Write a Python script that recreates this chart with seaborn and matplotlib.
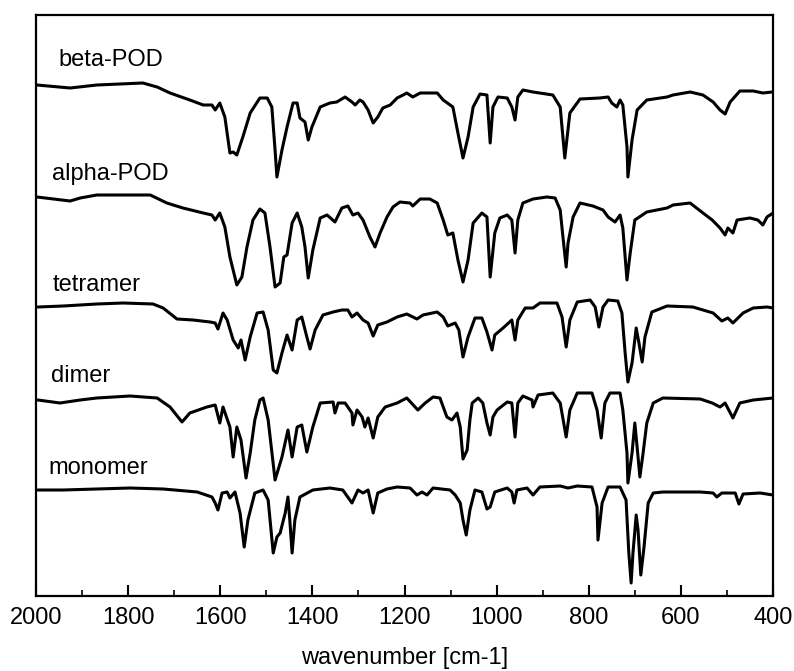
import matplotlib
matplotlib.use("Agg")
import matplotlib.pyplot as plt
from matplotlib.ticker import MultipleLocator
import pandas as pd
import seaborn as sns

# FTIR spectra, offset vertically (signal in arbitrary units)
beta_wn = [1998, 1926, 1868, 1768, 1737, 1709, 1666, 1637, 1618, 1611, 1601, 1590, 1579, 1572, 1564,
           1551, 1535, 1514, 1498, 1488, 1481, 1477, 1466, 1455, 1442, 1433, 1427, 1416, 1409, 1401,
           1383, 1362, 1347, 1329, 1314, 1307, 1297, 1290, 1279, 1268, 1258, 1247, 1231, 1216, 1203,
           1195, 1182, 1166, 1129, 1116, 1095, 1084, 1073, 1062, 1051, 1036, 1021, 1014, 1008, 997,
           977, 967, 960, 954, 943, 921, 878, 862, 852, 841, 819, 776, 758, 750, 739, 732, 726, 717,
           715, 706, 695, 674, 630, 617, 580, 552, 530, 515, 504, 493, 472, 443, 422, 402]
beta_sig = [511, 508, 511, 513, 509, 503, 496, 491, 491, 486, 493, 479, 443, 444, 441,
            459, 483, 498, 498, 489, 446, 419, 446, 469, 493, 493, 478, 474, 456, 469,
            489, 493, 494, 499, 494, 491, 496, 494, 486, 473, 479, 488, 491, 498, 501,
            503, 499, 503, 503, 496, 489, 463, 438, 459, 489, 502, 501, 453, 489, 499,
            498, 489, 476, 499, 506, 504, 501, 489, 438, 483, 497, 498, 499, 493, 489, 496, 491, 449,
            419, 456, 486, 496, 499, 501, 504, 501, 494, 486, 482, 494, 505, 505, 503, 504]

alpha_wn = [1998, 1926, 1904, 1868, 1752, 1716, 1681, 1637, 1618, 1611, 1601, 1590, 1579, 1564, 1553,
            1542, 1529, 1514, 1503, 1492, 1481, 1470, 1462, 1455, 1444, 1433, 1423, 1416, 1409, 1399,
            1383, 1368, 1351, 1336, 1323, 1312, 1301, 1290, 1275, 1264, 1253, 1238, 1225, 1210, 1188,
            1182, 1166, 1145, 1129, 1116, 1106, 1095, 1084, 1073, 1062, 1051, 1032, 1021, 1014, 1004,
            993, 977, 967, 960, 954, 943, 921, 891, 873, 862, 856, 849, 845, 834, 819, 791, 769, 758,
            743, 732, 726, 717, 710, 700, 674, 630, 617, 580, 552, 532, 515, 504, 498, 487, 478, 450,
            433, 422, 413, 400]
alpha_sig = [399, 395, 398, 401, 401, 393, 388, 383, 381, 376, 383, 369, 339, 311, 319,
             349, 376, 387, 383, 349, 309, 313, 339, 341, 373, 383, 369, 349, 318, 346,
             378, 381, 374, 388, 390, 381, 383, 376, 359, 349, 363, 379, 389, 394, 393,
             390, 397, 397, 393, 376, 361, 363, 336, 314, 336, 373, 383, 379, 319, 363,
             378, 381, 376, 343, 376, 393, 397, 399, 398, 386, 359, 329, 353, 379, 393, 390, 386, 379,
             374, 381, 368, 316, 343, 376, 384, 388, 391, 393, 383, 376, 368, 361, 368, 363, 376, 378,
             376, 371, 379, 383]

tetramer_wn = [1996, 1941, 1868, 1811, 1746, 1724, 1694, 1659, 1622, 1611, 1605, 1594, 1585, 1572, 1561,
               1555, 1546, 1535, 1520, 1507, 1496, 1485, 1477, 1466, 1455, 1444, 1433, 1423, 1412, 1405,
               1394, 1377, 1355, 1336, 1323, 1314, 1303, 1290, 1279, 1268, 1258, 1238, 1216, 1195, 1173,
               1160, 1129, 1116, 1106, 1090, 1082, 1073, 1062, 1047, 1032, 1021, 1010, 1004, 986, 967,
               960, 954, 938, 921, 906, 869, 858, 849, 841, 825, 797, 786, 778, 769, 758, 737, 728, 721,
               715, 706, 697, 691, 684, 678, 663, 630, 574, 530, 511, 498, 487, 465, 443, 413, 400]
tetramer_sig = [289, 290, 292, 293, 292, 288, 277, 276, 274, 273, 267, 283, 276, 256, 248,
                256, 236, 259, 283, 284, 266, 226, 223, 243, 261, 246, 276, 279, 259, 247,
                266, 281, 284, 286, 286, 279, 283, 276, 273, 260, 271, 274, 279, 282, 277,
                281, 284, 279, 270, 273, 266, 239, 259, 278, 278, 264, 246, 261, 268, 276,
                256, 276, 288, 288, 293, 293, 279, 249, 276, 294, 296, 289, 269, 289, 296, 295, 283, 243,
                214, 233, 268, 253, 234, 259, 284, 290, 289, 283, 275, 278, 273, 283, 288, 289, 288]

dimer_wn = [1996, 1948, 1904, 1868, 1796, 1737, 1709, 1683, 1666, 1629, 1611, 1601, 1594, 1579, 1572,
            1564, 1555, 1544, 1535, 1525, 1514, 1507, 1496, 1481, 1466, 1453, 1444, 1433, 1423, 1412,
            1399, 1383, 1355, 1351, 1344, 1329, 1314, 1312, 1303, 1292, 1286, 1279, 1268, 1258, 1242,
            1216, 1195, 1171, 1155, 1138, 1123, 1108, 1097, 1086, 1079, 1073, 1064, 1058, 1053, 1040,
            1030, 1021, 1014, 1008, 999, 977, 967, 960, 954, 943, 923, 921, 910, 878, 862, 849, 841,
            825, 793, 782, 773, 765, 754, 732, 726, 717, 715, 706, 700, 695, 689, 682, 674, 660, 639,
            558, 532, 515, 504, 487, 472, 443, 400]
dimer_sig = [196, 193, 196, 198, 200, 198, 189, 174, 183, 189, 191, 173, 189, 169, 139,
             169, 156, 118, 143, 176, 196, 198, 176, 116, 139, 166, 139, 169, 171, 144,
             169, 193, 194, 183, 193, 193, 183, 171, 186, 179, 169, 178, 158, 179, 189,
             193, 198, 186, 193, 199, 198, 179, 176, 183, 169, 137, 146, 176, 193, 198,
             193, 173, 161, 179, 186, 194, 193, 159, 193, 200, 196, 189, 201, 203, 193, 159, 186,
             203, 203, 186, 158, 193, 203, 203, 186, 143, 113, 143, 173, 149, 119, 143, 173, 193, 198,
             197, 193, 189, 193, 178, 193, 196, 198]

monomer_wn = [1996, 1941, 1868, 1796, 1724, 1650, 1618, 1611, 1605, 1596, 1585, 1579, 1568, 1557, 1548,
              1540, 1525, 1507, 1496, 1485, 1477, 1470, 1459, 1453, 1449, 1444, 1438, 1427, 1399, 1362,
              1334, 1314, 1301, 1290, 1279, 1268, 1258, 1238, 1216, 1188, 1173, 1162, 1151, 1138, 1101,
              1090, 1079, 1073, 1066, 1058, 1047, 1032, 1021, 1014, 1004, 977, 967, 962, 956, 934, 921,
              906, 862, 845, 825, 793, 782, 780, 771, 758, 732, 719, 713, 708, 704, 697, 693, 687, 680,
              671, 660, 639, 558, 530, 522, 511, 482, 474, 465, 428, 400]
monomer_sig = [106, 106, 107, 108, 107, 104, 99, 93, 86, 103, 104, 98, 104, 83, 49,
               76, 103, 106, 96, 43, 59, 63, 83, 99, 76, 43, 76, 99, 106, 108,
               106, 93, 106, 103, 106, 83, 103, 107, 109, 108, 101, 104, 101, 108, 106,
               101, 93, 76, 61, 86, 106, 104, 87, 89, 104, 108, 104, 93, 106, 108, 101,
               109, 110, 108, 110, 109, 89, 56, 93, 109, 109, 96, 43, 13, 43, 81, 66, 21, 49,
               93, 103, 104, 104, 103, 99, 103, 103, 92, 102, 103, 101]

samples = ["beta-POD", "alpha-POD", "tetramer", "dimer", "monomer"]
label_wn = [1952, 1965, 1963, 1967, 1972]
label_sig = [530, 416, 305, 214, 122]

spectra = [(beta_wn, beta_sig), (alpha_wn, alpha_sig), (tetramer_wn, tetramer_sig),
           (dimer_wn, dimer_sig), (monomer_wn, monomer_sig)]
frames = []
for name, (wn, sig) in zip(samples, spectra):
    frames.append(pd.DataFrame({"wavenumber": wn, "signal": sig, "sample": name}))
df = pd.concat(frames, ignore_index=True)

sns.set_style("white")
plt.rcParams["font.family"] = ["Liberation Sans", "DejaVu Sans"]
plt.rcParams["text.color"] = "black"
plt.rcParams["axes.labelcolor"] = "black"
plt.rcParams["xtick.color"] = "black"

fig = plt.figure(figsize=(7.94, 6.71), dpi=100)
ax = fig.add_axes([36 / 794, 75 / 671, 737 / 794, 581 / 671])

sns.lineplot(data=df, x="wavenumber", y="signal", hue="sample", palette=["black"] * 5,
             estimator=None, legend=False, linewidth=2.2, ax=ax)
for line in ax.get_lines():
    line.set_solid_joinstyle("round")
    line.set_solid_capstyle("round")

for name, x, y in zip(samples, label_wn, label_sig):
    ax.text(x, y, name, fontsize=17, va="baseline", ha="left", color="black")

ax.set_xlim(2000, 400)
ax.set_ylim(0, 581)
ax.set_yticks([])
ax.xaxis.set_major_locator(MultipleLocator(200))
ax.xaxis.set_minor_locator(MultipleLocator(100))
ax.tick_params(axis="x", which="major", direction="in", length=8, width=1.5,
               labelsize=17, pad=8, bottom=True, colors="black")
ax.tick_params(axis="x", which="minor", direction="in", length=4, width=1.2, bottom=True)
ax.set_xlabel("wavenumber [cm-1]", fontsize=17, labelpad=13, color="black")
ax.set_ylabel("")
for s in ax.spines.values():
    s.set_linewidth(1.6)
    s.set_color("black")

plt.savefig("out.png", dpi=100)
